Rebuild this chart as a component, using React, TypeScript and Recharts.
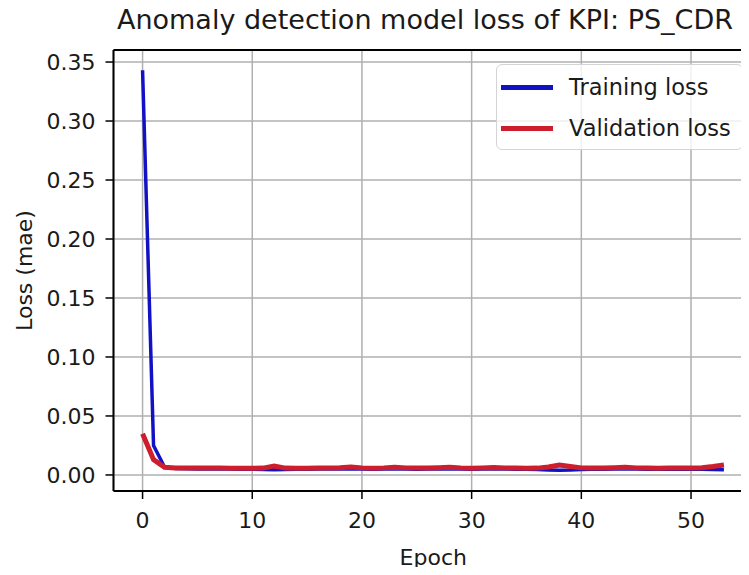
import React from "react";
import {
  CartesianGrid,
  ComposedChart,
  Legend,
  Line,
  ReferenceLine,
  XAxis,
  YAxis,
} from "recharts";

const epochs = Array.from({ length: 54 }, (_, i) => i);

const trainingLoss = [
  0.343, 0.025, 0.0068, 0.0055, 0.0052, 0.005, 0.005, 0.0051, 0.005, 0.0049,
  0.0048, 0.0046, 0.0045, 0.0046, 0.0048, 0.0049, 0.005, 0.005, 0.0051, 0.0052,
  0.005, 0.0049, 0.005, 0.0051, 0.005, 0.0049, 0.005, 0.005, 0.0051, 0.005,
  0.0049, 0.005, 0.0051, 0.005, 0.0049, 0.0048, 0.0047, 0.0043, 0.004, 0.0042,
  0.0047, 0.0048, 0.0049, 0.005, 0.005, 0.005, 0.0049, 0.0048, 0.0048, 0.0049,
  0.0049, 0.0048, 0.0046, 0.0045,
];

const validationLoss = [
  0.035, 0.013, 0.0065, 0.006, 0.006, 0.0058, 0.0058, 0.006, 0.0057, 0.0056,
  0.0056, 0.0058, 0.0075, 0.0058, 0.0057, 0.0056, 0.0058, 0.006, 0.0062, 0.0068,
  0.006, 0.0057, 0.006, 0.0066, 0.006, 0.0058, 0.006, 0.0062, 0.0066, 0.006,
  0.0057, 0.006, 0.0064, 0.006, 0.0058, 0.0057, 0.0058, 0.0068, 0.0085, 0.0072,
  0.006, 0.0058, 0.0059, 0.0062, 0.0066, 0.006, 0.0058, 0.0057, 0.0058, 0.0058,
  0.0059, 0.0062, 0.0072, 0.0085,
];

const xTicks = [0, 10, 20, 30, 40, 50];
const yTicks = [0, 0.05, 0.1, 0.15, 0.2, 0.25, 0.3, 0.35];

const X_DOMAIN: [number, number] = [-2.65, 55.65];
const Y_DOMAIN: [number, number] = [-0.0136, 0.3602];

const FONT = "'DejaVu Sans', sans-serif";
const INK = "#1a1a1a";
const BLUE = "#1212c4";
const RED = "#cc1e2c";

const data = epochs.map((epoch, i) => ({
  epoch,
  training: trainingLoss[i],
  validation: validationLoss[i],
}));

function LegendBox({ payload }: any) {
  const items = (payload || []) as { value: string; color: string }[];
  return (
    <div
      style={{
        position: "relative",
        width: 247,
        height: 86,
        boxSizing: "border-box",
        border: "1.5px solid #d4d4d4",
        borderRadius: 6,
        background: "rgba(255,255,255,0.8)",
        fontFamily: FONT,
        fontSize: 22.5,
        color: INK,
      }}
    >
      {items.map((it, i) => (
        <div
          key={it.value}
          style={{
            position: "absolute",
            left: 4,
            top: 9 + i * 41,
            height: 26,
            display: "flex",
            alignItems: "center",
          }}
        >
          <span
            style={{
              display: "inline-block",
              width: 52,
              height: 5,
              background: it.color,
              marginRight: 16,
            }}
          />
          <span style={{ lineHeight: "26px" }}>{it.value}</span>
        </div>
      ))}
    </div>
  );
}

export default function App() {
  return (
    <div
      style={{
        position: "relative",
        width: 749,
        height: 575,
        margin: -8,
        overflow: "hidden",
        background: "#fff",
        fontFamily: FONT,
      }}
    >
      <div
        style={{
          position: "absolute",
          left: 0,
          top: 5,
          width: 850,
          textAlign: "center",
          fontSize: 27,
          lineHeight: "30px",
          color: INK,
          zIndex: 2,
        }}
      >
        Anomaly detection model loss of KPI: PS_CDR
      </div>
      <ComposedChart
        width={760}
        height={575}
        data={data}
        margin={{ top: 50, right: 7, bottom: 0, left: 0 }}
      >
        <CartesianGrid stroke="#b0b0b0" strokeWidth={1.5} />
        <XAxis
          dataKey="epoch"
          type="number"
          domain={X_DOMAIN}
          ticks={xTicks}
          allowDataOverflow
          height={84}
          tickSize={8}
          tickMargin={13}
          axisLine={{ stroke: "#000", strokeWidth: 2 }}
          tickLine={{ stroke: "#000", strokeWidth: 1.5 }}
          tick={{ fontSize: 22, fill: INK, fontFamily: FONT }}
          label={({ viewBox }: any) => (
            <text
              x={viewBox.x + viewBox.width / 2}
              y={565}
              textAnchor="middle"
              fontSize={22}
              fill={INK}
              fontFamily={FONT}
            >
              Epoch
            </text>
          )}
        />
        <YAxis
          type="number"
          domain={Y_DOMAIN}
          ticks={yTicks}
          allowDataOverflow
          width={113.5}
          tickSize={8}
          tickMargin={10}
          tickFormatter={(v: number) => v.toFixed(2)}
          axisLine={{ stroke: "#000", strokeWidth: 2 }}
          tickLine={{ stroke: "#000", strokeWidth: 1.5 }}
          tick={{ fontSize: 22, fill: INK, fontFamily: FONT }}
          label={({ viewBox }: any) => {
            const cy = viewBox.y + viewBox.height / 2;
            return (
              <text
                x={32}
                y={cy}
                textAnchor="middle"
                transform={`rotate(-90, 32, ${cy})`}
                fontSize={22}
                fill={INK}
                fontFamily={FONT}
              >
                Loss (mae)
              </text>
            );
          }}
        />
        <ReferenceLine y={Y_DOMAIN[1]} stroke="#000" strokeWidth={2} />
        <Line
          type="linear"
          dataKey="training"
          name="Training loss"
          stroke={BLUE}
          strokeWidth={3.5}
          dot={false}
          isAnimationActive={false}
        />
        <Line
          type="linear"
          dataKey="validation"
          name="Validation loss"
          stroke={RED}
          strokeWidth={5}
          dot={false}
          isAnimationActive={false}
        />
        <Legend
          layout="horizontal"
          verticalAlign="middle"
          align="center"
          content={(props: any) => <LegendBox {...props} />}
          wrapperStyle={{ left: 496, top: 64, width: 247, height: 86 }}
        />
      </ComposedChart>
    </div>
  );
}
